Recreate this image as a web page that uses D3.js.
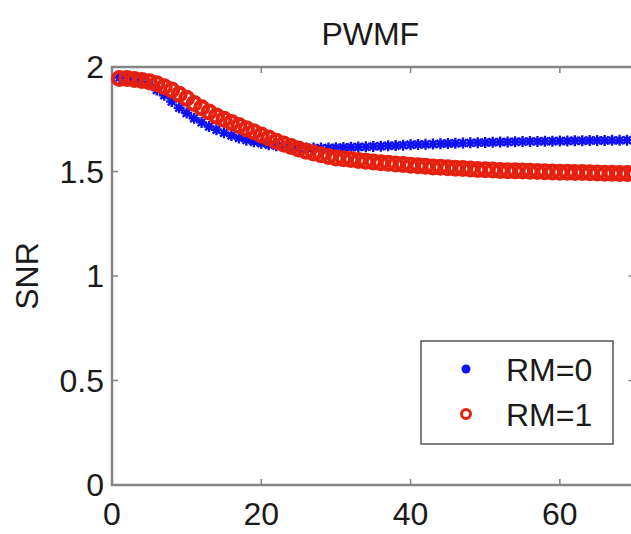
<!DOCTYPE html>
<html>
<head>
<meta charset="utf-8">
<script src="https://cdn.jsdelivr.net/npm/d3@7"></script>
<style>
  html, body { margin: 0; padding: 0; background: #fff; }
  svg { display: block; }
  text { font-family: "Liberation Sans", Arial, Helvetica, sans-serif; fill: #1a1a1a; }
</style>
</head>
<body>
<svg id="chart" width="631" height="534"></svg>
<script>
// SNR per iteration for the PWMF filter, with and without RM
const iterations = d3.range(1, 71);
const snrRM0 = [
  1.950, 1.948, 1.940, 1.930, 1.915, 1.890, 1.865, 1.835, 1.805, 1.780,
  1.755, 1.735, 1.715, 1.700, 1.685, 1.672, 1.660, 1.650, 1.642, 1.635,
  1.628, 1.623, 1.619, 1.616, 1.614, 1.613, 1.612, 1.612, 1.613, 1.614,
  1.615, 1.616, 1.617, 1.618, 1.620, 1.621, 1.623, 1.624, 1.626, 1.628,
  1.629, 1.630, 1.631, 1.633, 1.634, 1.635, 1.636, 1.637, 1.638, 1.639,
  1.640, 1.641, 1.641, 1.642, 1.643, 1.644, 1.644, 1.645, 1.645, 1.646,
  1.646, 1.647, 1.647, 1.648, 1.648, 1.648, 1.649, 1.649, 1.650, 1.650
];
const snrRM1 = [
  1.945, 1.945, 1.940, 1.935, 1.930, 1.920, 1.905, 1.890, 1.870, 1.850,
  1.825, 1.805, 1.785, 1.765, 1.750, 1.735, 1.720, 1.705, 1.690, 1.675,
  1.660, 1.645, 1.632, 1.620, 1.608, 1.597, 1.588, 1.580, 1.572, 1.565,
  1.561, 1.557, 1.553, 1.549, 1.545, 1.542, 1.539, 1.536, 1.533, 1.530,
  1.527, 1.525, 1.522, 1.520, 1.518, 1.516, 1.514, 1.512, 1.510, 1.508,
  1.507, 1.505, 1.504, 1.503, 1.502, 1.501, 1.500, 1.499, 1.498, 1.497,
  1.496, 1.495, 1.495, 1.494, 1.493, 1.492, 1.492, 1.491, 1.491, 1.490
];
const xTicks = [0, 20, 40, 60];
const yTicks = [0, 0.5, 1, 1.5, 2];
const yTickLabels = ["0", "0.5", "1", "1.5", "2"];
const seriesNames = ["RM=0", "RM=1"];
const titleText = "PWMF";
const yLabel = "SNR";

const svg = d3.select("#chart");
const plotLeft = 112, plotRight = 634.5, plotTop = 67, plotBottom = 485;

const x = d3.scaleLinear().domain([0, 70]).range([plotLeft, plotRight]);
const y = d3.scaleLinear().domain([0, 2]).range([plotBottom, plotTop]);

const axisColor = "#858585";
const fontSize = 32;

// plot frame
svg.append("rect")
  .attr("x", plotLeft).attr("y", plotTop)
  .attr("width", plotRight - plotLeft).attr("height", plotBottom - plotTop)
  .attr("fill", "none").attr("stroke", axisColor).attr("stroke-width", 2.5);

// inward ticks, MATLAB style
const tickLen = 6;
const tickG = svg.append("g").attr("stroke", axisColor).attr("stroke-width", 1.5);
xTicks.filter(d => d > 0).forEach(d => {
  tickG.append("line").attr("x1", x(d)).attr("x2", x(d)).attr("y1", plotBottom).attr("y2", plotBottom - tickLen);
  tickG.append("line").attr("x1", x(d)).attr("x2", x(d)).attr("y1", plotTop).attr("y2", plotTop + tickLen);
});
yTicks.filter(d => d > 0 && d < 2).forEach(d => {
  tickG.append("line").attr("x1", plotLeft).attr("x2", plotLeft + tickLen).attr("y1", y(d)).attr("y2", y(d));
  tickG.append("line").attr("x1", plotRight).attr("x2", plotRight - tickLen).attr("y1", y(d)).attr("y2", y(d));
});

// tick labels
svg.append("g").selectAll("text").data(xTicks).join("text")
  .attr("x", d => x(d)).attr("y", plotBottom + 40)
  .attr("text-anchor", "middle").attr("font-size", fontSize)
  .text(d => d);
svg.append("g").selectAll("text").data(yTicks).join("text")
  .attr("x", plotLeft - 8).attr("y", d => y(d) + 11)
  .attr("text-anchor", "end").attr("font-size", fontSize)
  .text((d, i) => yTickLabels[i]);

// title and axis label
svg.append("text").attr("x", (plotLeft + plotRight) / 2 - 3).attr("y", 45)
  .attr("text-anchor", "middle").attr("font-size", fontSize).text(titleText);
svg.append("text")
  .attr("transform", `translate(38,${(plotTop + plotBottom) / 2}) rotate(-90)`)
  .attr("text-anchor", "middle").attr("font-size", fontSize).text(yLabel);

// markers
const blue = "#1010f5", red = "#e5200e";
const asterisk = s => `M0,${-s}V${s}M${-s},0H${s}M${-s * 0.7},${-s * 0.7}L${s * 0.7},${s * 0.7}M${-s * 0.7},${s * 0.7}L${s * 0.7},${-s * 0.7}`;

const plot = svg.append("g");
plot.append("g").selectAll("path").data(iterations).join("path")
  .attr("transform", (d, i) => `translate(${x(d)},${y(snrRM0[i])})`)
  .attr("d", asterisk(5.5))
  .attr("stroke", blue).attr("stroke-width", 2.4).attr("fill", "none");

plot.append("g").selectAll("circle").data(iterations).join("circle")
  .attr("cx", d => x(d)).attr("cy", (d, i) => y(snrRM1[i]))
  .attr("r", 6.5)
  .attr("stroke", red).attr("stroke-width", 4).attr("fill", "none");

// legend
const lg = svg.append("g");
lg.append("rect").attr("x", 421).attr("y", 341).attr("width", 192).attr("height", 103)
  .attr("fill", "#fff").attr("stroke", "#555").attr("stroke-width", 1.5);
lg.append("circle").attr("cx", 466).attr("cy", 369).attr("r", 4.5).attr("fill", blue);
lg.append("circle").attr("cx", 466).attr("cy", 414).attr("r", 4.5)
  .attr("fill", "none").attr("stroke", red).attr("stroke-width", 3);
seriesNames.forEach((name, i) => {
  lg.append("text").attr("x", 506).attr("y", 381 + i * 45)
    .attr("font-size", fontSize).text(name);
});
</script>
</body>
</html>
